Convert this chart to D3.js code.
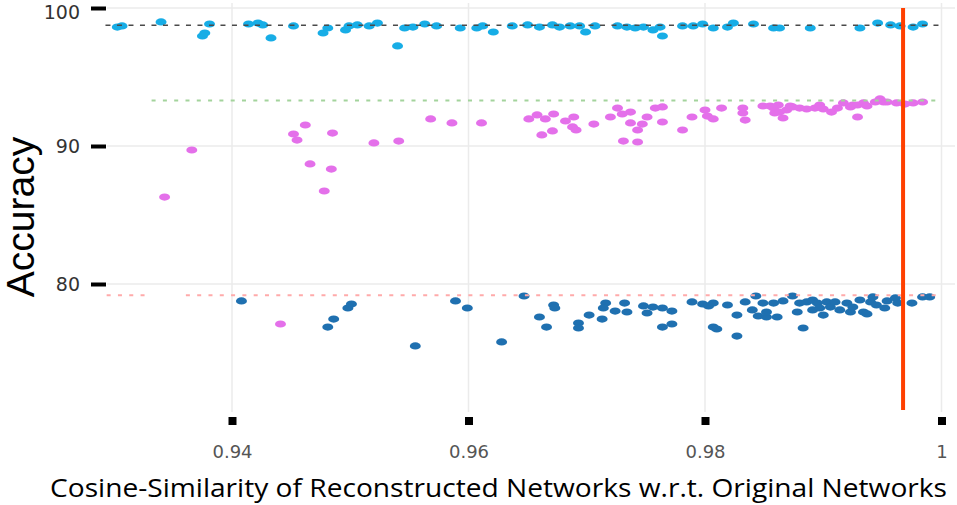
<!DOCTYPE html>
<html>
<head>
<meta charset="utf-8">
<script src="https://cdn.jsdelivr.net/npm/d3@7"></script>
<style>
  html, body { margin: 0; padding: 0; background: #fff; }
  svg { display: block; }
</style>
</head>
<body>
<svg id="chart" width="957" height="505"></svg>
<script>
// ---- data ----
const xTicks = [0.94, 0.96, 0.98, 1.0];
const xTickLabels = ["0.94", "0.96", "0.98", "1"];
const yTicks = [80, 90, 100];
const yTickLabels = ["80", "90", "100"];

// cyan series (top band): [cosine similarity, accuracy]
const cyanX = [0.9303,0.9307,0.9340,0.9375,0.9377,0.9381,0.9414,0.9422,0.9426,0.9433,0.9452,0.9477,0.9481,0.9496,0.9499,0.9506,0.9516,0.9523,0.9540,0.9546,0.9553,0.9563,0.9573,0.9593,0.9607,0.9612,0.9621,0.9637,0.9650,0.9660,0.9671,0.9677,0.9686,0.9694,0.9699,0.9707,0.9726,0.9734,0.9741,0.9748,0.9756,0.9762,0.9764,0.9781,0.9790,0.9798,0.9807,0.9819,0.9824,0.9841,0.9858,0.9863,0.9889,0.9931,0.9946,0.9957,0.9965,0.9976,0.9984];
const cyanY = [98.62,98.70,98.99,97.97,98.19,98.84,98.84,98.91,98.77,97.83,98.70,98.19,98.55,98.41,98.70,98.77,98.70,98.91,97.25,98.55,98.62,98.84,98.70,98.55,98.55,98.70,98.26,98.70,98.77,98.62,98.77,98.62,98.70,98.70,98.26,98.70,98.70,98.62,98.55,98.62,98.41,98.62,97.97,98.70,98.70,98.84,98.55,98.62,98.91,98.84,98.55,98.55,98.55,98.55,98.91,98.77,98.70,98.62,98.84];

// magenta series (middle band)
const magentaX = [0.9343,0.9366,0.9452,0.9455,0.9462,0.9466,0.9485,0.9484,0.9478,0.9520,0.9541,0.9568,0.9586,0.9611,0.9651,0.9658,0.9665,0.9672,0.9682,0.9689,0.9662,0.9671,0.9688,0.9691,0.9706,0.9720,0.9726,0.9730,0.9737,0.9737,0.9747,0.9743,0.9751,0.9731,0.9743,0.9758,0.9764,0.9764,0.9781,0.9789,0.9800,0.9802,0.9807,0.9814,0.9832,0.9832,0.9834,0.9849,0.9855,0.9858,0.9859,0.9862,0.9863,0.9866,0.9869,0.9872,0.9874,0.9880,0.9886,0.9893,0.9897,0.9900,0.9907,0.9912,0.9917,0.9923,0.9925,0.9929,0.9929,0.9934,0.9937,0.9944,0.9948,0.9951,0.9954,0.9962,0.9969,0.9976,0.9984,0.9441];
const magentaY = [86.30,89.71,90.87,90.43,91.52,88.70,90.94,88.33,86.74,90.22,90.36,91.96,91.67,91.67,91.96,92.25,91.96,92.32,91.81,92.10,90.80,91.09,91.38,91.16,91.59,92.10,92.75,92.32,92.46,91.67,91.59,91.16,92.10,90.36,90.29,92.75,92.83,91.74,91.16,92.10,92.61,92.17,91.96,92.75,92.75,92.39,91.88,92.90,92.90,92.75,92.39,92.97,92.46,92.03,92.61,92.90,92.83,92.75,92.68,92.75,92.97,92.68,92.46,92.75,93.12,92.83,92.97,92.97,92.10,93.12,92.90,93.19,93.41,93.19,93.19,93.12,93.04,93.12,93.19,77.10];

// dark blue series (bottom band)
const blueX = [0.9408,0.9481,0.9486,0.9498,0.9501,0.9555,0.9589,0.9599,0.9628,0.9647,0.9660,0.9666,0.9672,0.9673,0.9693,0.9693,0.9702,0.9713,0.9716,0.9714,0.9724,0.9732,0.9734,0.9748,0.9751,0.9756,0.9764,0.9772,0.9764,0.9772,0.9789,0.9798,0.9803,0.9807,0.9819,0.9807,0.9810,0.9827,0.9827,0.9834,0.9843,0.9840,0.9849,0.9845,0.9852,0.9852,0.9861,0.9858,0.9866,0.9874,0.9878,0.9883,0.9880,0.9886,0.9891,0.9891,0.9895,0.9897,0.9900,0.9903,0.9906,0.9910,0.9914,0.9920,0.9923,0.9925,0.9931,0.9934,0.9937,0.9940,0.9942,0.9945,0.9952,0.9954,0.9961,0.9963,0.9975,0.9984,0.9990];
const blueY = [78.77,76.88,77.46,78.26,78.55,75.51,78.77,78.26,75.80,79.13,77.61,76.88,78.48,78.26,77.17,76.81,77.75,77.46,78.62,78.26,78.04,78.62,77.97,78.41,77.90,78.33,78.26,78.04,76.88,77.10,78.70,78.55,78.41,78.62,78.48,76.88,76.74,77.75,76.23,78.70,79.13,78.12,78.62,77.68,77.61,77.97,77.61,78.62,78.77,79.13,77.97,76.81,78.62,78.70,78.12,78.84,78.62,78.26,77.75,78.70,78.33,78.70,78.12,78.62,77.97,78.33,78.84,77.97,77.83,78.70,79.06,78.48,78.26,78.77,78.99,78.62,78.62,79.06,79.06];

// dashed reference lines: level and x-extent segments
const refBlack = { y: 98.75, segments: [[0.9293, 1.0]] };
const refGreen = { y: 93.30, segments: [[0.9332, 1.0]] };
const refRed   = { y: 79.18, segments: [[0.9294, 0.9327], [0.9361, 1.0]] };

// vertical marker
const markerX = 0.99675;
const markerY = [100, 70.87];

const xTitle = "Cosine-Similarity of Reconstructed Networks w.r.t. Original Networks";
const yTitle = "Accuracy";

// ---- drawing ----
const svg = d3.select("#chart");
const x = d3.scaleLinear().domain([0.94, 1.0]).range([232, 941.5]);
const y = d3.scaleLinear().domain([80, 100]).range([284, 8]);

const panel = { left: 107, right: 955, top: 3, bottom: 412 };

// gridlines
const grid = svg.append("g");
grid.selectAll("line.v").data(xTicks).join("line")
  .attr("x1", d => x(d)).attr("x2", d => x(d))
  .attr("y1", panel.top).attr("y2", panel.bottom)
  .attr("stroke", "#ebebeb").attr("stroke-width", 1.5);
grid.selectAll("line.h").data(yTicks).join("line")
  .attr("x1", panel.left).attr("x2", panel.right)
  .attr("y1", d => y(d)).attr("y2", d => y(d))
  .attr("stroke", "#ebebeb").attr("stroke-width", 1.5);

// points
function drawSeries(xs, ys, color) {
  const data = xs.map((v, i) => [v, ys[i]]);
  svg.append("g").selectAll("ellipse").data(data).join("ellipse")
    .attr("cx", d => x(d[0])).attr("cy", d => y(d[1]))
    .attr("rx", 5.5).attr("ry", 3.6)
    .attr("fill", color);
}
drawSeries(cyanX, cyanY, "#17ade6");
drawSeries(magentaX, magentaY, "#e470ea");
drawSeries(blueX, blueY, "#1f70b0");

// reference dashed lines
function drawRef(ref, color, width, dash) {
  svg.append("g").selectAll("line").data(ref.segments).join("line")
    .attr("x1", d => x(d[0])).attr("x2", d => x(d[1]))
    .attr("y1", y(ref.y)).attr("y2", y(ref.y))
    .attr("stroke", color).attr("stroke-width", width)
    .attr("stroke-dasharray", dash);
}
drawRef(refBlack, "#4a4a4a", 1.6, "5,6.5");
drawRef(refGreen, "#a3d39c", 2, "4,7.3");
drawRef(refRed, "#ffaaaa", 2, "4,7.3");

// red vertical marker
svg.append("line")
  .attr("x1", x(markerX)).attr("x2", x(markerX))
  .attr("y1", y(markerY[0])).attr("y2", y(markerY[1]))
  .attr("stroke", "#ff4000").attr("stroke-width", 4);

// x axis
const xAxis = d3.axisBottom(x).tickValues(xTicks)
  .tickFormat((d, i) => xTickLabels[i])
  .tickSizeInner(8).tickSizeOuter(0).tickPadding(20);
const gx = svg.append("g").attr("transform", "translate(0,417)").call(xAxis);
gx.select(".domain").remove();
gx.selectAll(".tick line").attr("stroke", "#000").attr("stroke-width", 8);
gx.selectAll(".tick text")
  .attr("font-family", "DejaVu Sans, Verdana, sans-serif")
  .attr("font-size", 18).attr("fill", "#555");

// y axis
const yAxis = d3.axisLeft(y).tickValues(yTicks)
  .tickFormat((d, i) => yTickLabels[i])
  .tickSizeInner(15).tickSizeOuter(0).tickPadding(11);
const gy = svg.append("g").attr("transform", "translate(106,0)").call(yAxis);
gy.select(".domain").remove();
gy.selectAll(".tick line").attr("stroke", "#000").attr("stroke-width", 4);
gy.selectAll(".tick text")
  .attr("font-family", "DejaVu Sans, Verdana, sans-serif")
  .attr("font-size", 19).attr("fill", "#333")
  .attr("y", d => d === 100 ? 4 : 0);

// axis titles
svg.append("text")
  .attr("x", 50).attr("y", 497)
  .attr("font-family", "Open Sans, Noto Sans, sans-serif")
  .attr("font-size", 26).attr("fill", "#000")
  .attr("textLength", 897).attr("lengthAdjust", "spacingAndGlyphs")
  .text(xTitle);

svg.append("text")
  .attr("transform", "translate(34,217) rotate(-90)")
  .attr("text-anchor", "middle")
  .attr("font-family", "Liberation Sans, Arial, sans-serif")
  .attr("font-size", 39).attr("fill", "#000")
  .text(yTitle);
</script>
</body>
</html>
